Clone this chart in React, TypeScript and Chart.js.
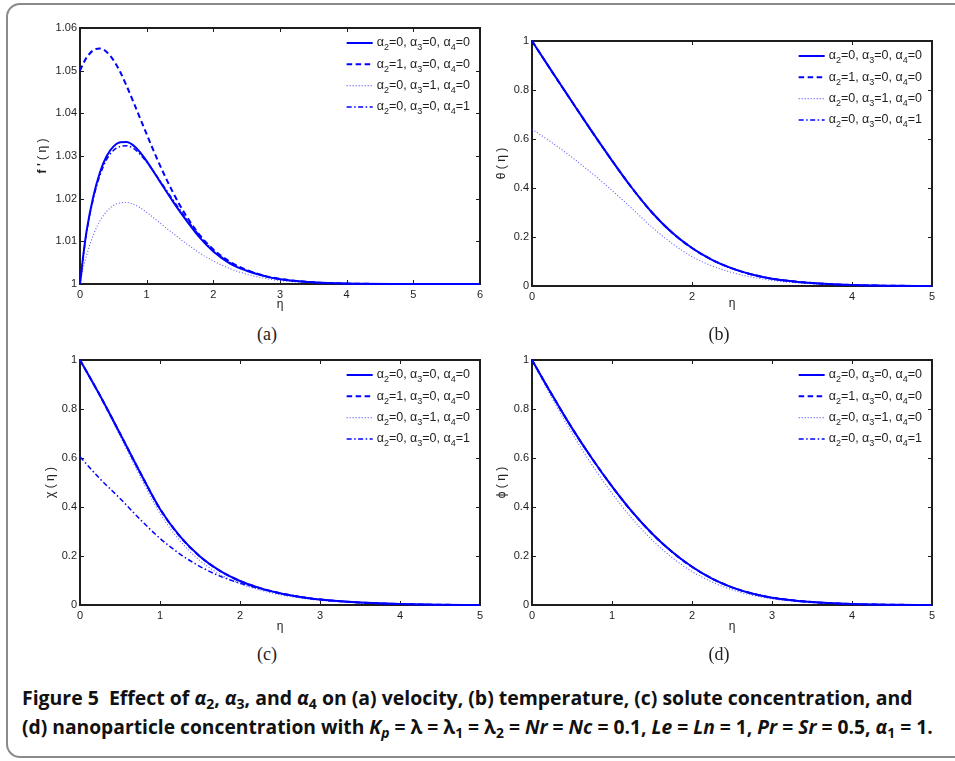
import React, { useEffect, useLayoutEffect, useRef } from "react";
import { Chart, registerables } from "chart.js";
Chart.register(...registerables);

// ---------- DATA ----------
const LEGEND_LABELS = [
  "α_2=0, α_3=0, α_4=0",
  "α_2=1, α_3=0, α_4=0",
  "α_2=0, α_3=1, α_4=0",
  "α_2=0, α_3=0, α_4=1",
];

// (a) velocity f'(η)
const ETA_A = [0, 0.05, 0.1, 0.2, 0.3, 0.4, 0.5, 0.6, 0.7, 0.8, 0.9, 1.0, 1.2, 1.4, 1.6, 1.8, 2.0, 2.25, 2.5, 2.75, 3.0, 3.5, 4.0, 5.0, 6.0];
const A_SOLID = [1.0, 1.0068, 1.0125, 1.0205, 1.0262, 1.03, 1.0322, 1.0332, 1.0333, 1.0325, 1.0309, 1.0288, 1.024, 1.0192, 1.0148, 1.0108, 1.0076, 1.0048, 1.0031, 1.0019, 1.0011, 1.0004, 1.0001, 1.0, 1.0];
const A_DASHED = [1.05, 1.0517, 1.0531, 1.0548, 1.0552, 1.0544, 1.0525, 1.0498, 1.0464, 1.0427, 1.0389, 1.0351, 1.0278, 1.0213, 1.0158, 1.0114, 1.0081, 1.0052, 1.0033, 1.002, 1.0012, 1.0004, 1.0001, 1.0, 1.0];
const A_DOTTED = [1.0, 1.0038, 1.0068, 1.0115, 1.0148, 1.017, 1.0184, 1.019, 1.0191, 1.0187, 1.0179, 1.0168, 1.0143, 1.0118, 1.0094, 1.0072, 1.0054, 1.0036, 1.0023, 1.0014, 1.0008, 1.0003, 1.0001, 1.0, 1.0];
const A_DASHDOT = [1.0, 1.0066, 1.0122, 1.02, 1.0255, 1.0292, 1.0313, 1.0322, 1.0324, 1.0318, 1.0304, 1.0286, 1.0242, 1.0196, 1.0152, 1.0112, 1.0079, 1.005, 1.0032, 1.002, 1.0011, 1.0004, 1.0001, 1.0, 1.0];
const A_XTICKS = [0, 1, 2, 3, 4, 5, 6];
const A_YTICKS = [1, 1.01, 1.02, 1.03, 1.04, 1.05, 1.06];

// shared η grid for (b), (c), (d)
const ETA = [0, 0.25, 0.5, 0.75, 1, 1.25, 1.5, 1.75, 2, 2.25, 2.5, 2.75, 3, 3.5, 4, 4.5, 5];

// (b) temperature θ(η)
const B_SOLID = [1.0, 0.875, 0.752, 0.63, 0.512, 0.4, 0.3, 0.218, 0.155, 0.107, 0.072, 0.047, 0.03, 0.012, 0.004, 0.001, 0.0];
const B_DASHED = [1.0, 0.875, 0.752, 0.63, 0.512, 0.4, 0.3, 0.218, 0.155, 0.107, 0.072, 0.047, 0.03, 0.012, 0.004, 0.001, 0.0];
const B_DOTTED = [0.64, 0.585, 0.525, 0.46, 0.39, 0.316, 0.24, 0.174, 0.12, 0.082, 0.055, 0.036, 0.023, 0.009, 0.003, 0.001, 0.0];
const B_DASHDOT = [1.0, 0.875, 0.752, 0.63, 0.512, 0.4, 0.3, 0.218, 0.155, 0.107, 0.072, 0.047, 0.03, 0.012, 0.004, 0.001, 0.0];
const B_XTICKS = [0, 2, 4, 5];

// (c) solute concentration χ(η)
const C_SOLID = [1.0, 0.855, 0.7, 0.542, 0.392, 0.28, 0.198, 0.139, 0.098, 0.069, 0.048, 0.033, 0.022, 0.01, 0.004, 0.001, 0.0];
const C_DASHED = [1.0, 0.855, 0.7, 0.542, 0.392, 0.28, 0.198, 0.139, 0.098, 0.069, 0.048, 0.033, 0.022, 0.01, 0.004, 0.001, 0.0];
const C_DOTTED = [1.0, 0.85, 0.69, 0.526, 0.374, 0.262, 0.181, 0.125, 0.087, 0.061, 0.042, 0.029, 0.019, 0.008, 0.003, 0.001, 0.0];
const C_DASHDOT = [0.605, 0.515, 0.435, 0.35, 0.272, 0.208, 0.157, 0.118, 0.089, 0.066, 0.048, 0.034, 0.023, 0.01, 0.004, 0.001, 0.0];

// (d) nanoparticle concentration ϕ(η)
const D_SOLID = [1.0, 0.858, 0.722, 0.598, 0.484, 0.381, 0.292, 0.217, 0.156, 0.108, 0.072, 0.047, 0.03, 0.012, 0.004, 0.001, 0.0];
const D_DASHED = [1.0, 0.858, 0.722, 0.598, 0.484, 0.381, 0.292, 0.217, 0.156, 0.108, 0.072, 0.047, 0.03, 0.012, 0.004, 0.001, 0.0];
const D_DOTTED = [1.0, 0.845, 0.702, 0.572, 0.456, 0.353, 0.266, 0.194, 0.137, 0.094, 0.062, 0.04, 0.025, 0.009, 0.003, 0.001, 0.0];
const D_DASHDOT = [1.0, 0.858, 0.722, 0.598, 0.484, 0.381, 0.292, 0.217, 0.156, 0.108, 0.072, 0.047, 0.03, 0.012, 0.004, 0.001, 0.0];

const X5_TICKS = [0, 1, 2, 3, 4, 5];
const Y01_TICKS = [0, 0.2, 0.4, 0.6, 0.8, 1];

// ---------- STYLE / LAYOUT ----------
const BLUE = "#0000ff";
const STYLES = [
  { color: BLUE, width: 2, dash: [] as number[] },
  { color: BLUE, width: 2, dash: [5.5, 3.5] },
  { color: "rgba(50,50,255,0.8)", width: 1.1, dash: [1, 2] },
  { color: BLUE, width: 1.5, dash: [5, 2.5, 1.5, 2.5] },
];

type Part = [string, boolean];
type PanelCfg = {
  area: { l: number; t: number; r: number; b: number };
  eta: number[];
  series: number[][];
  xMax: number;
  xTicks: number[];
  yMin: number;
  yMax: number;
  yTicks: number[];
  yTitle: Part[];
  yTitleOff: number;
  xTitleOff: number;
  caption: string;
  capX: number;
  capY: number;
};

const PANELS: PanelCfg[] = [
  {
    area: { l: 80, t: 28, r: 480, b: 284 }, eta: ETA_A,
    series: [A_SOLID, A_DASHED, A_DOTTED, A_DASHDOT],
    xMax: 6, xTicks: A_XTICKS, yMin: 1, yMax: 1.06, yTicks: A_YTICKS,
    yTitle: [["f '", true], [" ( η )", false]], yTitleOff: 37, xTitleOff: 21,
    caption: "(a)", capX: 267, capY: 335,
  },
  {
    area: { l: 532, t: 41, r: 932, b: 286 }, eta: ETA,
    series: [B_SOLID, B_DASHED, B_DOTTED, B_DASHDOT],
    xMax: 5, xTicks: B_XTICKS, yMin: 0, yMax: 1, yTicks: Y01_TICKS,
    yTitle: [["θ ( η )", false]], yTitleOff: 30, xTitleOff: 18,
    caption: "(b)", capX: 719, capY: 335,
  },
  {
    area: { l: 80, t: 360, r: 480, b: 605 }, eta: ETA,
    series: [C_SOLID, C_DASHED, C_DOTTED, C_DASHDOT],
    xMax: 5, xTicks: X5_TICKS, yMin: 0, yMax: 1, yTicks: Y01_TICKS,
    yTitle: [["χ ( η )", false]], yTitleOff: 29, xTitleOff: 22,
    caption: "(c)", capX: 267, capY: 655,
  },
  {
    area: { l: 532, t: 360, r: 932, b: 605 }, eta: ETA,
    series: [D_SOLID, D_DASHED, D_DOTTED, D_DASHDOT],
    xMax: 5, xTicks: X5_TICKS, yMin: 0, yMax: 1, yTicks: Y01_TICKS,
    yTitle: [["ϕ ( η )", false]], yTitleOff: 30, xTitleOff: 22,
    caption: "(d)", capX: 719, capY: 655,
  },
];

const FONT = "'Liberation Sans', Arial, sans-serif";
const fmt = (v: number) => String(parseFloat(Number(v).toFixed(4)));

function parseRich(s: string): { t: string; sub: boolean }[] {
  const out: { t: string; sub: boolean }[] = [];
  let buf = "";
  for (let i = 0; i < s.length; i++) {
    if (s[i] === "_" && i + 1 < s.length) {
      if (buf) out.push({ t: buf, sub: false });
      buf = "";
      out.push({ t: s[i + 1], sub: true });
      i++;
    } else buf += s[i];
  }
  if (buf) out.push({ t: buf, sub: false });
  return out;
}

const MAIN_FONT = `12.5px ${FONT}`;
const SUB_FONT = `9px ${FONT}`;

function richWidth(ctx: CanvasRenderingContext2D, s: string) {
  let w = 0;
  for (const seg of parseRich(s)) {
    ctx.font = seg.sub ? SUB_FONT : MAIN_FONT;
    w += ctx.measureText(seg.t).width;
  }
  return w;
}

const decorPlugin = {
  id: "decor",
  beforeDatasetsDraw(chart: any, _args: any, opts: any) {
    const { ctx, chartArea: a, scales } = chart;
    const x = scales.x, y = scales.y;
    ctx.save();
    // frame
    ctx.strokeStyle = "#1e1e1e";
    ctx.lineWidth = 2;
    ctx.strokeRect(a.left, a.top, a.right - a.left, a.bottom - a.top);
    // inward ticks on all sides
    const TL = 4;
    ctx.lineWidth = 1;
    ctx.beginPath();
    for (const t of x.ticks) {
      const px = Math.round(x.getPixelForValue(t.value)) + 0.5;
      ctx.moveTo(px, a.bottom); ctx.lineTo(px, a.bottom - TL);
      ctx.moveTo(px, a.top); ctx.lineTo(px, a.top + TL);
    }
    for (const t of y.ticks) {
      const py = Math.round(y.getPixelForValue(t.value)) + 0.5;
      ctx.moveTo(a.left, py); ctx.lineTo(a.left + TL, py);
      ctx.moveTo(a.right, py); ctx.lineTo(a.right - TL, py);
    }
    ctx.stroke();
    // x title
    ctx.fillStyle = "#222";
    ctx.font = `12px ${FONT}`;
    ctx.textAlign = "center";
    ctx.textBaseline = "middle";
    ctx.fillText("η", (a.left + a.right) / 2, a.bottom + opts.xTitleOff);
    // y title (mixed weight)
    const parts: Part[] = opts.yTitle;
    let total = 0;
    const widths = parts.map(([t, b]) => {
      ctx.font = `${b ? "bold " : ""}12px ${FONT}`;
      const w = ctx.measureText(t).width;
      total += w;
      return w;
    });
    ctx.translate(a.left - opts.yTitleOff, (a.top + a.bottom) / 2);
    ctx.rotate(-Math.PI / 2);
    ctx.textAlign = "left";
    let cx = -total / 2;
    parts.forEach(([t, b], i) => {
      ctx.font = `${b ? "bold " : ""}12px ${FONT}`;
      ctx.fillText(t, cx, 0);
      cx += widths[i];
    });
    ctx.restore();
  },
  afterDatasetsDraw(chart: any) {
    const { ctx, chartArea: a } = chart;
    const ds = chart.data.datasets;
    ctx.save();
    let maxW = 0;
    for (const d of ds) maxW = Math.max(maxW, richWidth(ctx, d.label));
    const tx = a.right - 10 - maxW;
    ds.forEach((d: any, i: number) => {
      const yy = a.top + 15 + i * 21.3;
      ctx.strokeStyle = d.borderColor;
      ctx.lineWidth = d.borderWidth;
      ctx.setLineDash(d.borderDash || []);
      ctx.beginPath();
      ctx.moveTo(tx - 30, yy);
      ctx.lineTo(tx - 4, yy);
      ctx.stroke();
      ctx.setLineDash([]);
      ctx.fillStyle = "#1e1e1e";
      ctx.textBaseline = "middle";
      ctx.textAlign = "left";
      let cx = tx;
      for (const seg of parseRich(d.label)) {
        ctx.font = seg.sub ? SUB_FONT : MAIN_FONT;
        ctx.fillText(seg.t, cx, seg.sub ? yy + 5 : yy);
        cx += ctx.measureText(seg.t).width;
      }
    });
    ctx.restore();
  },
};

const PADL = 70, PADT = 14, PADR = 14, PADB = 36;

function PanelChart({ p }: { p: PanelCfg }) {
  const ref = useRef<HTMLCanvasElement>(null);
  const cw = p.area.r - p.area.l + PADL + PADR;
  const ch = p.area.b - p.area.t + PADT + PADB;
  useEffect(() => {
    const tickFont = { family: FONT, size: 11 };
    const chart = new Chart(ref.current as HTMLCanvasElement, {
      type: "line",
      data: {
        datasets: p.series.map((s, i) => ({
          label: LEGEND_LABELS[i],
          data: p.eta.map((x, j) => ({ x, y: s[j] })),
          borderColor: STYLES[i].color,
          borderWidth: STYLES[i].width,
          borderDash: STYLES[i].dash,
          pointRadius: 0,
          fill: false,
          cubicInterpolationMode: "monotone",
          clip: 4,
        })),
      },
      options: {
        animation: false,
        responsive: false,
        maintainAspectRatio: false,
        devicePixelRatio: 1,
        layout: { padding: { left: 0, top: PADT, right: PADR, bottom: 0 } },
        plugins: {
          legend: { display: false },
          tooltip: { enabled: false },
          decor: { yTitle: p.yTitle, yTitleOff: p.yTitleOff, xTitleOff: p.xTitleOff },
        } as any,
        scales: {
          x: {
            type: "linear",
            min: 0,
            max: p.xMax,
            afterBuildTicks: (s: any) => { s.ticks = p.xTicks.map((v) => ({ value: v })); },
            afterFit: (s: any) => { s.height = PADB; },
            grid: { display: false, drawTicks: false },
            border: { display: false },
            ticks: { padding: 4, color: "#1e1e1e", font: tickFont, maxRotation: 0, autoSkip: false, callback: (v: any) => fmt(v) },
          },
          y: {
            type: "linear",
            min: p.yMin,
            max: p.yMax,
            afterBuildTicks: (s: any) => { s.ticks = p.yTicks.map((v) => ({ value: v })); },
            afterFit: (s: any) => { s.width = PADL; },
            grid: { display: false, drawTicks: false },
            border: { display: false },
            ticks: { padding: 3, color: "#1e1e1e", font: tickFont, autoSkip: false, callback: (v: any) => fmt(v) },
          },
        },
      } as any,
      plugins: [decorPlugin as any],
    });
    return () => chart.destroy();
  }, []);
  return (
    <canvas
      ref={ref}
      width={cw}
      height={ch}
      style={{ position: "absolute", left: p.area.l - PADL, top: p.area.t - PADT, width: cw, height: ch }}
    />
  );
}

function FitLine({ target, top, children }: { target: number; top: number; children: React.ReactNode }) {
  const ref = useRef<HTMLDivElement>(null);
  useLayoutEffect(() => {
    const el = ref.current;
    if (!el) return;
    el.style.transform = "none";
    const w = el.scrollWidth;
    if (w > 0) el.style.transform = `scaleX(${target / w})`;
  });
  return (
    <div
      ref={ref}
      style={{
        position: "absolute", left: 22, top, whiteSpace: "nowrap", transformOrigin: "0 0",
        font: "bold 19px 'Liberation Sans Narrow', 'Open Sans', sans-serif", lineHeight: "29px", color: "#111",
        display: "inline-block", fontVariantLigatures: "none",
      }}
    >
      {children}
    </div>
  );
}

const subStyle: React.CSSProperties = { fontSize: "0.72em", verticalAlign: "-0.3em", lineHeight: 0 };

export default function App() {
  return (
    <div style={{ position: "absolute", left: 0, top: 0, width: 955, height: 761, overflow: "hidden", background: "#fff" }}>
      <div
        style={{
          position: "absolute", left: 6, top: 3, width: 1100, height: 755, boxSizing: "border-box",
          border: "2px solid #8a8a8a", borderRadius: 14,
        }}
      />
      {PANELS.map((p, i) => (
        <PanelChart key={i} p={p} />
      ))}
      {PANELS.map((p, i) => (
        <div
          key={"c" + i}
          style={{
            position: "absolute", left: p.capX - 40, width: 80, top: p.capY - 11, lineHeight: "22px",
            textAlign: "center", font: "18px 'Liberation Serif', serif", color: "#222",
          }}
        >
          {p.caption}
        </div>
      ))}
      <FitLine target={890} top={684}>
        Figure 5&nbsp;&nbsp;Effect of <i>α</i><sub style={subStyle}>2</sub>, <i>α</i><sub style={subStyle}>3</sub>, and{" "}
        <i>α</i><sub style={subStyle}>4</sub> on (a) velocity, (b) temperature, (c) solute concentration, and
      </FitLine>
      <FitLine target={911} top={713}>
        (d) nanoparticle concentration with <i>K<sub style={subStyle}>p</sub></i> = λ = λ<sub style={subStyle}>1</sub> = λ
        <sub style={subStyle}>2</sub> = <i>Nr</i> = <i>Nc</i> = 0.1, <i>Le</i> = <i>Ln</i> = 1, <i>Pr</i> = <i>Sr</i> = 0.5,{" "}
        <i>α</i><sub style={subStyle}>1</sub> = 1.
      </FitLine>
    </div>
  );
}
